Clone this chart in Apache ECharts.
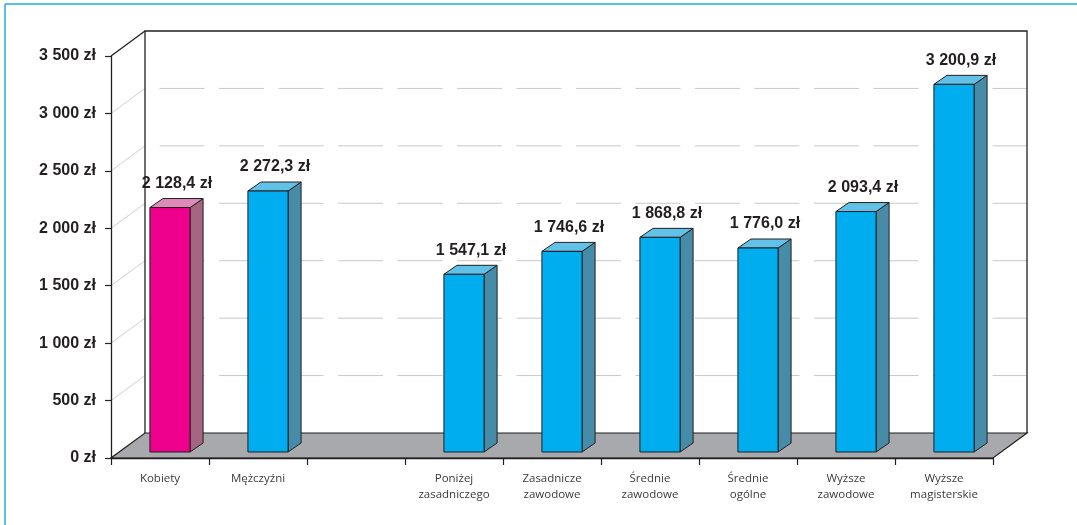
<!DOCTYPE html>
<html>
<head>
<meta charset="utf-8">
<script src="https://cdn.jsdelivr.net/npm/echarts@6/dist/echarts.min.js"></script>
<style>
  html, body { margin: 0; padding: 0; background: #fff; }
  #chart { width: 1077px; height: 525px; }
</style>
</head>
<body>
<div id="chart"></div>
<script>
// Average gross salary by sex and by education level
const categories = [
  'Kobiety', 'Mężczyźni', '',
  'Poniżej\nzasadniczego', 'Zasadnicze\nzawodowe', 'Średnie\nzawodowe',
  'Średnie\nogólne', 'Wyższe\nzawodowe', 'Wyższe\nmagisterskie'
];
const salaries = [2128.4, 2272.3, null, 1547.1, 1746.6, 1868.8, 1776.0, 2093.4, 3200.9];
const highlighted = [true, false, false, false, false, false, false, false, false];
const yMin = 0, yMax = 3500, yStep = 500;

// polish money format: "2 128,4 zł"
function money(v, decimals) {
  const s = v.toFixed(decimals);
  const parts = s.split('.');
  const intPart = parts[0].replace(/\B(?=(\d{3})+(?!\d))/g, ' ');
  return intPart + (parts[1] ? ',' + parts[1] : '') + ' zł';
}

const INK = '#231F20';
const BOLD_FONT = '"Liberation Sans", Arial, sans-serif';
const WALL_DX = 34, WALL_DY = -25;   // depth of the floor / back wall
const BAR_FRONT = [10, -6];           // bar front face offset into the floor
const BAR_DEPTH = [13, -9];           // bar side depth

const palette = {
  blue: { front: '#00AEEF', side: '#468CA8', top: '#62C1E6' },
  pink: { front: '#EC008C', side: '#A3657F', top: '#DE8BB8' }
};

function renderFrame(params, api) {
  const cs = params.coordSys;
  const x0 = cs.x, x1 = cs.x + cs.width;
  const y0 = api.coord([0, yMin])[1];
  const yTop = api.coord([0, yMax])[1];
  const children = [];
  // grid lines on the side and back walls
  for (let v = yMin + yStep; v < yMax; v += yStep) {
    const y = api.coord([0, v])[1];
    children.push({
      type: 'line',
      shape: { x1: x0, y1: y, x2: x0 + WALL_DX, y2: y + WALL_DY },
      style: { stroke: '#CFCFCF', lineWidth: 1 }
    });
    children.push({
      type: 'line',
      shape: { x1: x0 + WALL_DX, y1: y + WALL_DY, x2: x1 + WALL_DX, y2: y + WALL_DY },
      style: { stroke: '#C8C8C8', lineWidth: 1, lineDash: [45, 14.5], lineDashOffset: 45 }
    });
  }
  // floor
  children.push({
    type: 'polygon',
    shape: { points: [[x0, y0], [x1, y0], [x1 + WALL_DX, y0 + WALL_DY], [x0 + WALL_DX, y0 + WALL_DY]] },
    style: { fill: '#A7A9AC', stroke: INK, lineWidth: 1.2 }
  });
  // back wall outline
  children.push({
    type: 'polyline',
    shape: { points: [
      [x0 + WALL_DX, y0 + WALL_DY], [x0 + WALL_DX, yTop + WALL_DY],
      [x1 + WALL_DX, yTop + WALL_DY], [x1 + WALL_DX, y0 + WALL_DY]
    ] },
    style: { stroke: INK, lineWidth: 1.3, fill: null }
  });
  children.push({
    type: 'line',
    shape: { x1: x0, y1: yTop, x2: x0 + WALL_DX, y2: yTop + WALL_DY },
    style: { stroke: INK, lineWidth: 1.3 }
  });
  return { type: 'group', children: children };
}

function renderBar(params, api) {
  const v = api.value(1);
  if (v == null || isNaN(v)) return null;
  const idx = api.value(0);
  const base = api.coord([idx, 0]);
  const top = api.coord([idx, v]);
  const bw = api.size([1, 0])[0] * 0.41;
  const L = base[0] - bw / 2 + BAR_FRONT[0];
  const R = L + bw;
  const b = base[1] + BAR_FRONT[1];
  const t = top[1] + BAR_FRONT[1];
  const dx = BAR_DEPTH[0], dy = BAR_DEPTH[1];
  const c = highlighted[params.dataIndex] ? palette.pink : palette.blue;
  const edge = { stroke: INK, lineWidth: 1 };
  return {
    type: 'group',
    children: [
      { type: 'polygon', shape: { points: [[R, t], [R + dx, t + dy], [R + dx, b + dy], [R, b]] },
        style: Object.assign({ fill: c.side }, edge) },
      { type: 'polygon', shape: { points: [[L, t], [L + dx, t + dy], [R + dx, t + dy], [R, t]] },
        style: Object.assign({ fill: c.top }, edge) },
      { type: 'rect', shape: { x: L, y: t, width: bw, height: b - t },
        style: Object.assign({ fill: c.front }, edge) },
      { type: 'text',
        style: {
          text: money(v, 1), x: base[0] + 17, y: t - 24,
          align: 'center', verticalAlign: 'middle',
          fontFamily: BOLD_FONT, fontWeight: 'bold', fontSize: 16, fill: INK
        } }
    ]
  };
}

const chart = echarts.init(document.getElementById('chart'), null, { renderer: 'canvas' });
chart.setOption({
  animation: false,
  backgroundColor: '#fff',
  graphic: [
    { type: 'line', shape: { x1: 5, y1: 4, x2: 1077, y2: 4 }, style: { stroke: '#1FADE6', lineWidth: 1.5 } },
    { type: 'line', shape: { x1: 5, y1: 4, x2: 5, y2: 525 }, style: { stroke: '#1FADE6', lineWidth: 1.5 } }
  ],
  grid: { left: 111, right: 84, top: 56, bottom: 67 },
  xAxis: {
    type: 'category',
    data: categories,
    z: 10,
    axisLine: { show: true, lineStyle: { color: INK, width: 1.3 } },
    axisTick: { show: true, length: 7, lineStyle: { color: INK, width: 1.2 } },
    axisLabel: {
      interval: 0, margin: 13,
      fontFamily: '"Open Sans", sans-serif', fontSize: 11.5, lineHeight: 16,
      color: '#3A3A3A'
    },
    splitLine: { show: false }
  },
  yAxis: {
    type: 'value',
    min: yMin, max: yMax, interval: yStep,
    z: 10,
    axisLine: { show: true, lineStyle: { color: INK, width: 1.3 } },
    axisTick: { show: true, length: 6, lineStyle: { color: INK, width: 1.2 } },
    axisLabel: {
      margin: 15,
      formatter: v => money(v, 0),
      fontFamily: BOLD_FONT, fontWeight: 'bold', fontSize: 16, color: INK
    },
    splitLine: { show: false }
  },
  series: [
    {
      type: 'custom',
      name: 'frame',
      z: 1,
      silent: true,
      clip: false,
      renderItem: renderFrame,
      data: [[0, 0]]
    },
    {
      type: 'custom',
      name: 'wynagrodzenie',
      z: 3,
      clip: false,
      renderItem: renderBar,
      encode: { x: 0, y: 1 },
      data: salaries.map((v, i) => [i, v])
    }
  ]
});
</script>
</body>
</html>
